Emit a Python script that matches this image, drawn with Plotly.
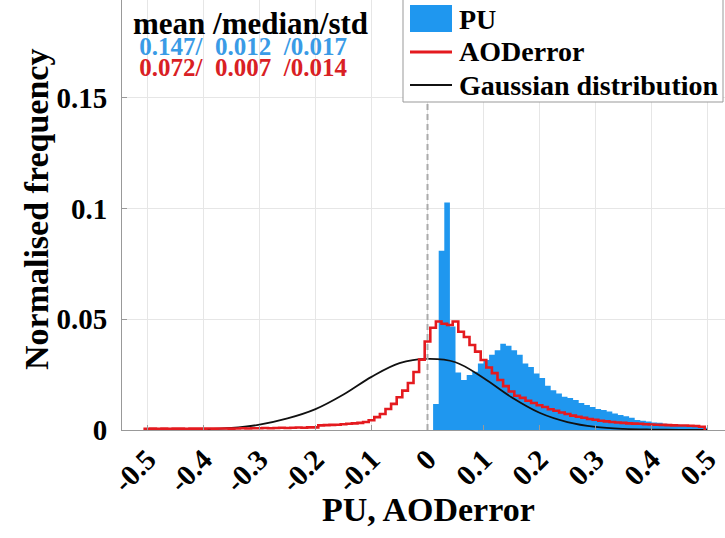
import numpy as np
import plotly.graph_objects as go

# ---------------- data ----------------
# PU histogram: bins of width 0.01, left edges 0.01 ... 0.49
pu_left_edges = [round(0.01 * k, 2) for k in range(1, 50)]
pu_freq = [0.0117, 0.0810, 0.1027, 0.0467, 0.0260, 0.0226, 0.0248, 0.0263, 0.0300, 0.0316,
           0.0340, 0.0360, 0.0390, 0.0380, 0.0360, 0.0340, 0.0300, 0.0285, 0.0255, 0.0235,
           0.0200, 0.0180, 0.0165, 0.0150, 0.0145, 0.0136, 0.0122, 0.0113, 0.0104, 0.0095,
           0.0090, 0.0083, 0.0075, 0.0068, 0.0062, 0.0055, 0.0045, 0.0042, 0.0038, 0.0034,
           0.0033, 0.0028, 0.0027, 0.0025, 0.0020, 0.0020, 0.0016, 0.0015, 0.0010]

# AODerror histogram (stairs): bin centres -0.50 ... 0.49, width 0.01
aod_centres = [round(-0.50 + 0.01 * k, 2) for k in range(100)]
aod_freq = [0.0005, 0.0006, 0.0005, 0.0006, 0.0005, 0.0006, 0.0006, 0.0005, 0.0006, 0.0006,
            0.0006, 0.0007, 0.0006, 0.0007, 0.0007, 0.0006, 0.0007, 0.0008, 0.0007, 0.0008,
            0.0008, 0.0009, 0.0008, 0.0009, 0.0010, 0.0009, 0.0010, 0.0011, 0.0010, 0.0012,
            0.0012, 0.0021, 0.0022, 0.0023, 0.0024, 0.0026, 0.0028, 0.0030, 0.0032, 0.0036,
            0.0044, 0.0058, 0.0072, 0.0095, 0.0118, 0.0148, 0.0178, 0.0212, 0.0262, 0.0318,
            0.0400, 0.0462, 0.0490, 0.0480, 0.0474, 0.0490, 0.0444, 0.0420, 0.0384, 0.0354,
            0.0316, 0.0282, 0.0257, 0.0226, 0.0198, 0.0174, 0.0155, 0.0145, 0.0132, 0.0122,
            0.0112, 0.0104, 0.0094, 0.0087, 0.0079, 0.0072, 0.0065, 0.0060, 0.0055, 0.0050,
            0.0046, 0.0042, 0.0039, 0.0036, 0.0034, 0.0032, 0.0030, 0.0029, 0.0028, 0.0026,
            0.0025, 0.0024, 0.0023, 0.0022, 0.0021, 0.0020, 0.0020, 0.0019, 0.0018, 0.0015]
aod_bin_width = 0.01

# Gaussian distribution curve
gauss_x = [-0.50, -0.45, -0.40, -0.35, -0.30, -0.25, -0.20, -0.15, -0.10, -0.05, 0.00,
           0.05, 0.10, 0.15, 0.20, 0.25, 0.30, 0.35, 0.40, 0.45, 0.50]
gauss_y = [0.0000, 0.0001, 0.0003, 0.0009, 0.0024, 0.0052, 0.0094, 0.0160, 0.0240, 0.0302, 0.0321,
           0.0306, 0.0235, 0.0148, 0.0078, 0.0036, 0.0014, 0.0005, 0.0002, 0.0001, 0.0000]

x_tick_vals = [-0.5, -0.4, -0.3, -0.2, -0.1, 0, 0.1, 0.2, 0.3, 0.4, 0.5]
x_tick_text = ["-0.5", "-0.4", "-0.3", "-0.2", "-0.1", "0", "0.1", "0.2", "0.3", "0.4", "0.5"]
y_tick_vals = [0, 0.05, 0.1, 0.15]
y_tick_text = ["0", "0.05", "0.1", "0.15"]

x_title = "PU, AODerror"
y_title = "Normalised frequency"

stats_header = "mean /median/std"
stats_pu = "0.147/\u00a0\u00a00.012\u00a0\u00a0/0.017"
stats_aod = "0.072/\u00a0\u00a00.007\u00a0\u00a0/0.014"

legend_names = ["PU", "AODerror", "Gaussian distribution"]

# ---------------- styling ----------------
BLUE = "#1f97ef"
RED = "#e41a1f"
FONT = "Liberation Serif"

W, H = 725, 538
ML, MR, MT, MB = 122, 0, 0, 108
PW, PH = W - ML - MR, H - MT - MB
X0_PX, X_SCALE = 427.5, 560.0   # pixel of x=0 and px per unit
Y_SCALE = 2214.0
x_range = [(ML - X0_PX) / X_SCALE, (W - MR - X0_PX) / X_SCALE]
y_range = [0, PH / Y_SCALE]

def px(xp):
    return (xp - ML) / PW

def py(yp):
    return (MT + PH - yp) / PH

# stairs for PU (filled)
pu_x = list(pu_left_edges) + [pu_left_edges[-1] + 0.01]
pu_y = list(pu_freq) + [pu_freq[-1]]

# stairs for AODerror (outline with drops to zero at both ends)
edges = [c - aod_bin_width / 2 for c in aod_centres] + [aod_centres[-1] + aod_bin_width / 2]
aod_x = [edges[0]] + edges + [edges[-1]]
aod_y = [0] + list(aod_freq) + [aod_freq[-1], 0]

fig = go.Figure()
fig.add_trace(go.Scatter(x=pu_x, y=pu_y, mode="lines", line=dict(shape="hv", width=0, color=BLUE),
                         fill="tozeroy", fillcolor=BLUE, name=legend_names[0], showlegend=False))
fig.add_trace(go.Scatter(x=gauss_x, y=gauss_y, mode="lines",
                         line=dict(color="#111111", width=1.8, shape="spline", smoothing=1.0),
                         name=legend_names[2], showlegend=False))
fig.add_trace(go.Scatter(x=aod_x, y=aod_y, mode="lines", line=dict(shape="hv", width=2.6, color=RED),
                         name=legend_names[1], showlegend=False))

# dashed zero line
fig.add_shape(type="line", xref="x", yref="paper", x0=0, x1=0, y0=0, y1=1,
              line=dict(color="#aaaaaa", width=2, dash="6px,4px"), layer="above")

# manual legend
fig.add_shape(type="rect", xref="paper", yref="paper", x0=px(403), x1=px(723), y0=py(102), y1=py(-5),
              line=dict(color="#999999", width=1), fillcolor="white", layer="above")
fig.add_shape(type="rect", xref="paper", yref="paper", x0=px(410), x1=px(452), y0=py(32), y1=py(5),
              line=dict(width=0), fillcolor=BLUE, layer="above")
fig.add_shape(type="line", xref="paper", yref="paper", x0=px(410), x1=px(452), y0=py(52), y1=py(52),
              line=dict(color=RED, width=3), layer="above")
fig.add_shape(type="line", xref="paper", yref="paper", x0=px(410), x1=px(452), y0=py(85), y1=py(85),
              line=dict(color="#111111", width=2), layer="above")
for name, yc in zip(legend_names, [19, 52, 85]):
    fig.add_annotation(xref="paper", yref="paper", x=px(457), y=py(yc), text=name, showarrow=False,
                       xanchor="left", yanchor="middle",
                       font=dict(family=FONT, size=28, color="black", weight="bold"))

# statistics text (one block, three lines)
stats_text = (
    f'<span style="font-size:31px">{stats_header}</span><br>'
    f'<span style="font-size:25px;color:#3a9be6">\u00a0{stats_pu}</span><br>'
    f'<span style="font-size:25px;color:#d92024">\u00a0{stats_aod}</span>'
)
fig.add_annotation(xref="paper", yref="paper", x=px(131), y=py(4), text=stats_text, showarrow=False,
                   xanchor="left", yanchor="top", align="left",
                   font=dict(family=FONT, size=16, color="black", weight="bold"))

# axis titles
fig.add_annotation(xref="paper", yref="paper", x=px(428), y=py(510), text=x_title, showarrow=False,
                   xanchor="center", yanchor="middle",
                   font=dict(family=FONT, size=34, color="black", weight="bold"))
fig.add_annotation(xref="paper", yref="paper", x=px(36), y=py(210), text=y_title, showarrow=False,
                   xanchor="center", yanchor="middle", textangle=-90,
                   font=dict(family=FONT, size=34, color="black", weight="bold"))

fig.update_layout(
    width=W, height=H, margin=dict(l=ML, r=MR, t=MT, b=MB),
    paper_bgcolor="white", plot_bgcolor="white", showlegend=False,
    xaxis=dict(range=x_range, tickvals=x_tick_vals, ticktext=x_tick_text, tickangle=-45,
               tickfont=dict(family=FONT, size=29, color="black", weight="bold"),
               showgrid=True, gridcolor="#e6e6e6", gridwidth=1, zeroline=False,
               showline=True, linecolor="#999999", linewidth=1, ticks="inside", ticklen=5, tickcolor="#999999"),
    yaxis=dict(range=y_range, tickvals=y_tick_vals, ticktext=y_tick_text,
               tickfont=dict(family=FONT, size=29, color="black", weight="bold"),
               showgrid=True, gridcolor="#e6e6e6", gridwidth=1, zeroline=False,
               showline=True, linecolor="#999999", linewidth=1, ticks="inside", ticklen=5, tickcolor="#999999",
               ticklabelstandoff=8),
)

fig.write_html("out.html")
